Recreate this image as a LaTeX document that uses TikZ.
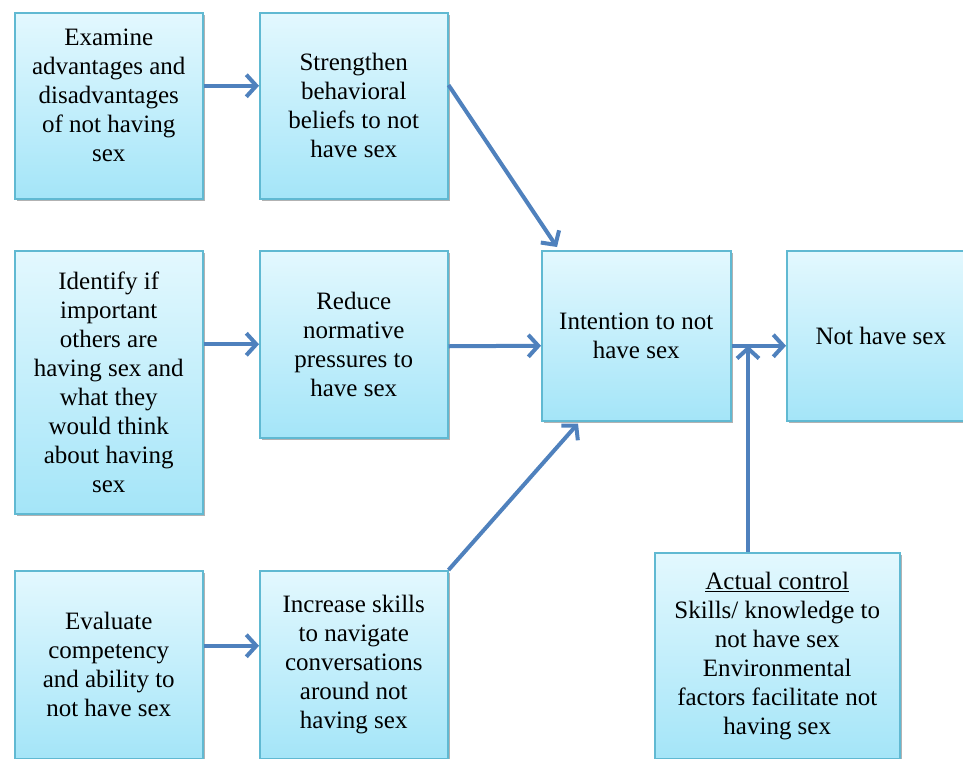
\documentclass[tikz,border=0pt]{standalone}
\usepackage{fontspec}
\setmainfont{Liberation Serif}
\usetikzlibrary{arrows.meta,calc,shadows}
\definecolor{arrowc}{RGB}{79,129,189}
\definecolor{boxline}{RGB}{96,185,210}
\definecolor{boxtop}{RGB}{227,248,254}
\definecolor{boxbot}{RGB}{164,229,248}
\tikzset{
  box/.style={draw=boxline, line width=1.5pt, top color=boxtop, bottom color=boxbot,
    align=center, font=\fontsize{25}{29}\selectfont, inner sep=0pt, anchor=north west,
    drop shadow={shadow xshift=2pt, shadow yshift=-2pt, opacity=0.3, fill=black}},
  arr/.style={draw=arrowc, line width=4pt, -{Straight Barb[length=10pt,width=22pt]}}
}
\begin{document}
\begin{tikzpicture}[x=1pt,y=-1pt]
\path[use as bounding box, clip] (0,0) rectangle (963,758);
\node[box, minimum width=188pt, minimum height=186pt] (A1) at (14,12)
  {Examine\\advantages and\\disadvantages\\of not having\\sex\\[-7pt]};
\node[box, minimum width=188pt, minimum height=186pt] (A2) at (259,12)
  {Strengthen\\behavioral\\beliefs to not\\have sex};
\node[box, minimum width=188pt, minimum height=263pt] (B1) at (14,250)
  {Identify if\\important\\others are\\having sex and\\what they\\would think\\about having\\sex};
\node[box, minimum width=188pt, minimum height=187pt] (B2) at (259,250)
  {Reduce\\normative\\pressures to\\have sex};
\node[box, minimum width=188pt, minimum height=188pt] (C1) at (14,570)
  {Evaluate\\competency\\and ability to\\not have sex};
\node[box, minimum width=188pt, minimum height=188pt] (C2) at (259,570)
  {Increase skills\\to navigate\\conversations\\around not\\having sex};
\node[box, minimum width=189pt, minimum height=170pt] (Int) at (541,250)
  {Intention to not\\have sex};
\node[box, minimum width=188pt, minimum height=170pt] (Not) at (786,250)
  {Not have sex};
\node[box, minimum width=245pt, minimum height=206pt] (Act) at (654,552)
  {\underline{Actual control}\\Skills/ knowledge to\\not have sex\\Environmental\\factors facilitate not\\having sex};
\coordinate (J) at ($(Act.north west)+(94,0)$);
\draw[arr] ($(A1.east)+(0,-20)$) -- ($(A2.west)+(0,-20)$);
\draw[arr] (B1.east |- B2.east) -- (B2.west);
\draw[arr] ($(C1.east)+(0,-19)$) -- ($(C2.west)+(0,-19)$);
\draw[arr] ($(A2.north east)+(0,73)$) -- ($(Int.north west)+(16,-3)$);
\draw[arr] ($(B2.east)+(0,2)$) -- ($(Int.west)+(0,10)$);
\draw[arr] (C2.north east) -- ($(Int.south west)+(37,2)$);
\draw[arr] ($(Int.east)+(0,10)$) -- ($(Not.west)+(0,10)$);
\draw[arr] (J) -- (J |- {$(Int.east)+(0,10)$});
\end{tikzpicture}
\end{document}
